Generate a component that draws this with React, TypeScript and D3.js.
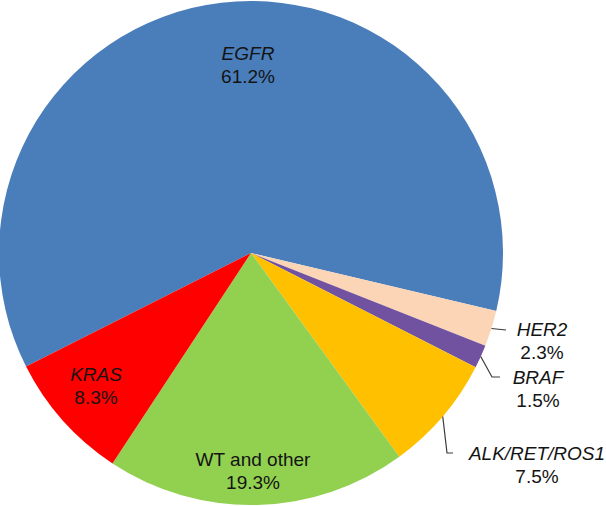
import React from "react";
import * as d3 from "d3";

const categories = ["EGFR", "HER2", "BRAF", "ALK/RET/ROS1", "WT and other", "KRAS"];
const values = [61.2, 2.3, 1.5, 7.5, 19.3, 8.3];
const valueLabels = ["61.2%", "2.3%", "1.5%", "7.5%", "19.3%", "8.3%"];
const italicName = [true, true, true, true, false, true];
const colors = ["#4A7EBB", "#FBD5B5", "#7152A0", "#FFC000", "#92D050", "#FF0000"];

// layout (label anchor: center of first text line), leader line bends
const labelPos: [number, number][] = [
  [248, 53],
  [542, 329],
  [538, 377],
  [537, 453],
  [253, 459],
  [96, 374],
];
const leaderBends: ([number, number][] | null)[] = [
  null,
  [[506, 330]],
  [[492, 377], [500, 377]],
  [[447, 453], [453, 453]],
  null,
  null,
];

const W = 606;
const H = 506;
const cx = 251;
const cy = 253;
const R = 252;
const startDeg = -116.8;

export default function App() {
  const total = d3.sum(values);
  const pie = d3
    .pie<number>()
    .sort(null)
    .value((d) => d)
    .startAngle((startDeg * Math.PI) / 180)
    .endAngle((startDeg * Math.PI) / 180 + 2 * Math.PI * (total / total));
  const arcs = pie(values);
  const arc = d3.arc<d3.PieArcDatum<number>>().innerRadius(0).outerRadius(R);
  const edge = (a: d3.PieArcDatum<number>): [number, number] => {
    const m = (a.startAngle + a.endAngle) / 2;
    return [cx + R * Math.sin(m), cy - R * Math.cos(m)];
  };
  const line = d3.line();
  const font = "'Liberation Sans', Arial, Helvetica, sans-serif";
  return (
    <svg
      width={W}
      height={H}
      style={{ position: "absolute", left: 0, top: 0, background: "#fff" }}
    >
      <g transform={`translate(${cx},${cy})`}>
        {arcs.map((a, i) => (
          <path key={i} d={arc(a) || ""} fill={colors[i]} />
        ))}
      </g>
      {arcs.map((a, i) => {
        const b = leaderBends[i];
        if (!b) return null;
        const pts: [number, number][] = [edge(a), ...b];
        return (
          <path
            key={"l" + i}
            d={line(pts) || ""}
            fill="none"
            stroke="#3a3a3a"
            strokeWidth={1.2}
          />
        );
      })}
      {categories.map((c, i) => (
        <g key={"t" + i} fontFamily={font} fontSize={19} fill="#141414" textAnchor="middle">
          <text
            x={labelPos[i][0]}
            y={labelPos[i][1]}
            dy="0.35em"
            fontStyle={italicName[i] ? "italic" : "normal"}
          >
            {c}
          </text>
          <text x={labelPos[i][0]} y={labelPos[i][1] + 23.5} dy="0.35em">
            {valueLabels[i]}
          </text>
        </g>
      ))}
    </svg>
  );
}
